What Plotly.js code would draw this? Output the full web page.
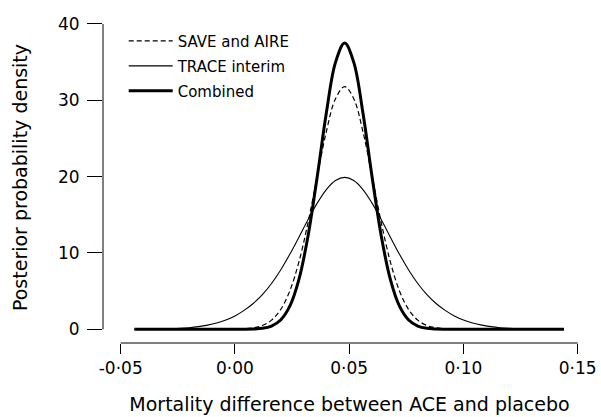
<!DOCTYPE html>
<html>
<head>
<meta charset="utf-8">
<script src="https://cdn.plot.ly/plotly-3.0.1.min.js"></script>
<style>html,body{margin:0;padding:0;background:#fff;}#chart{width:601px;height:417px;}</style>
</head>
<body>
<div id="chart"></div>
<script>
// Mortality difference between ACE and placebo (x grid)
const mortalityDiff = [-0.044,-0.040,-0.036,-0.032,-0.028,-0.024,-0.020,-0.016,-0.012,-0.008,-0.004,0.000,
  0.004,0.008,0.012,0.016,0.020,0.024,0.028,0.032,0.036,0.040,0.044,0.048,
  0.052,0.056,0.060,0.064,0.068,0.072,0.076,0.080,0.084,0.088,0.092,0.096,
  0.100,0.104,0.108,0.112,0.116,0.120,0.124,0.128,0.132,0.136,0.140,0.144];

// Posterior probability density
const saveAire = [0,0,0,0,0,0,0,0,0,0,0.01,0.02,
  0.07,0.19,0.50,1.20,2.59,5.03,8.84,14.02,20.06,25.91,30.21,31.8,
  30.21,25.91,20.06,14.02,8.84,5.03,2.59,1.20,0.50,0.19,0.07,0.02,
  0.01,0,0,0,0,0,0,0,0,0,0,0];
const traceInterim = [0,0.01,0.02,0.04,0.07,0.12,0.21,0.35,0.55,0.83,1.22,1.75,
  2.48,3.38,4.54,6.00,7.77,9.82,12.07,14.37,16.53,18.31,19.49,19.9,
  19.49,18.31,16.53,14.37,12.07,9.82,7.77,6.00,4.54,3.38,2.48,1.75,
  1.22,0.83,0.55,0.35,0.21,0.12,0.07,0.04,0.02,0.01,0,0];
const combined = [0,0,0,0,0,0,0,0,0,0,0,0,
  0.01,0.04,0.13,0.43,1.22,3.03,6.54,12.26,19.99,28.36,34.97,37.5,
  34.97,28.36,19.99,12.26,6.54,3.03,1.22,0.43,0.13,0.04,0.01,0,
  0,0,0,0,0,0,0,0,0,0,0,0];

const seriesNames = ["SAVE and AIRE", "TRACE interim", "Combined"];
const xTickVals = [-0.05, 0, 0.05, 0.10, 0.15];
const xTickText = ["-0·05", "0·00", "0·05", "0·10", "0·15"];
const yTickVals = [0, 10, 20, 30, 40];
const yTickText = ["0", "10", "20", "30", "40"];

const FONT = "DejaVu Sans, Verdana, sans-serif";

const traces = [
  {x: mortalityDiff, y: saveAire, name: seriesNames[0], type: "scatter", mode: "lines",
   line: {color: "#000", width: 1.2, dash: "5px,3px", shape: "spline"}, legendgroup: "a"},
  {x: mortalityDiff, y: traceInterim, name: seriesNames[1], type: "scatter", mode: "lines",
   line: {color: "#000", width: 1.1, shape: "spline"}, legendgroup: "b"},
  {x: mortalityDiff, y: combined, name: seriesNames[2], type: "scatter", mode: "lines",
   line: {color: "#000", width: 3, shape: "spline"}, legendgroup: "c"}
];

const layout = {
  width: 601, height: 417,
  margin: {l: 103, r: 5, t: 12, b: 74, pad: 0},
  paper_bgcolor: "#fff", plot_bgcolor: "#fff",
  font: {family: FONT, color: "#000", size: 17},
  showlegend: true,
  legend: {x: 0.042, y: 0.962, xanchor: "left", yanchor: "top", bgcolor: "rgba(0,0,0,0)",
           font: {family: FONT, size: 15, color: "#000"}, itemwidth: 44, tracegroupgap: 2.5,
           traceorder: "grouped"},
  xaxis: {range: [-0.05775, 0.158], showgrid: false, zeroline: false, showline: false,
          tickmode: "array", tickvals: xTickVals, ticktext: xTickText,
          ticks: "outside", ticklen: 10, tickwidth: 1, tickcolor: "#000",
          tickfont: {family: FONT, size: 17, color: "#000"},
          title: {text: "Mortality difference between ACE and placebo", font: {family: FONT, size: 19, color: "#000"}, standoff: 20}},
  yaxis: {range: [-1.795, 41.57], showgrid: false, zeroline: false, showline: false,
          tickmode: "array", tickvals: yTickVals, ticktext: yTickText,
          ticks: "outside", ticklen: 15, tickwidth: 1, tickcolor: "#000", ticklabelstandoff: 4,
          tickfont: {family: FONT, size: 17, color: "#000"},
          title: {text: "Posterior probability density", font: {family: FONT, size: 19, color: "#000"}, standoff: 25}},
  shapes: [
    {type: "line", xref: "x", yref: "paper", x0: xTickVals[0], x1: xTickVals[xTickVals.length-1], y0: 0, y1: 0,
     line: {color: "#000", width: 1}},
    {type: "line", xref: "paper", yref: "y", x0: 0, x1: 0, y0: yTickVals[0], y1: yTickVals[yTickVals.length-1],
     line: {color: "#000", width: 1}}
  ]
};

Plotly.newPlot("chart", traces, layout, {displayModeBar: false, staticPlot: true});
</script>
</body>
</html>
